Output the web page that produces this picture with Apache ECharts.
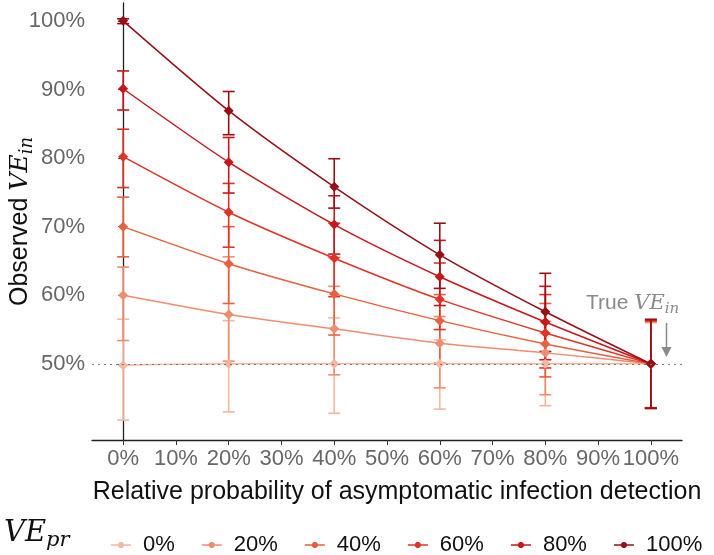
<!DOCTYPE html>
<html><head><meta charset="utf-8">
<script src="https://cdn.jsdelivr.net/npm/echarts@6/dist/echarts.min.js"></script>
<style>html,body{margin:0;padding:0;background:#fff}#c{width:714px;height:555px}</style>
</head><body><div id="c"></div>
<script>
// ---- data ----
const xValues = [0, 20, 40, 60, 80, 100];
const xTickValues = [0, 10, 20, 30, 40, 50, 60, 70, 80, 90, 100];
const yTickValues = [50, 60, 70, 80, 90, 100];
const seriesNames = ['0%', '20%', '40%', '60%', '80%', '100%'];
const trueVE = 50;

const mean_0   = [49.8, 50.0, 50.0, 50.0, 50.0, 50.0];
const low_0    = [41.8, 43.0, 42.8, 43.4, 43.9, 43.5];
const high_0   = [56.5, 56.3, 56.7, 53.5, 54.5, 56.0];

const mean_20  = [60.0, 57.2, 55.1, 53.0, 51.6, 50.0];
const low_20   = [53.4, 50.4, 48.4, 46.5, 45.5, 43.5];
const high_20  = [64.1, 65.6, 61.3, 56.9, 56.2, 56.1];

const mean_40  = [70.0, 64.6, 60.2, 56.3, 52.9, 50.0];
const low_40   = [65.6, 58.8, 54.2, 50.1, 48.1, 43.6];
const high_40  = [74.3, 70.0, 65.5, 60.1, 58.8, 56.2];

const mean_60  = [80.2, 72.1, 65.4, 59.4, 54.5, 50.0];
const low_60   = [75.7, 67.0, 59.8, 55.0, 49.4, 43.6];
const high_60  = [84.2, 76.3, 70.5, 64.7, 60.1, 56.3];

const mean_80  = [90.1, 79.4, 70.3, 62.7, 56.1, 50.0];
const low_80   = [87.0, 74.9, 66.0, 58.5, 50.6, 43.6];
const high_80  = [92.7, 83.0, 74.5, 68.0, 61.3, 56.4];

const mean_100 = [100.0, 86.9, 75.8, 65.9, 57.6, 50.0];
const low_100  = [99.6, 83.4, 72.7, 61.0, 51.8, 43.5];
const high_100 = [100.3, 89.7, 79.9, 70.5, 63.2, 56.5];

// ---- build ----
const means = [mean_0, mean_20, mean_40, mean_60, mean_80, mean_100];
const lows  = [low_0, low_20, low_40, low_60, low_80, low_100];
const highs = [high_0, high_20, high_40, high_60, high_80, high_100];
const colors = ['#F6B7A1', '#F08D6F', '#E9603F', '#DF3326', '#C7171D', '#971015'];

const FONT = '"Liberation Sans", Arial, sans-serif';
const SERIF = '"DejaVu Serif", serif';

function renderErr(params, api) {
  const x = api.value(0), lo = api.value(1), hi = api.value(2);
  const pLo = api.coord([x, lo]), pHi = api.coord([x, hi]);
  const hw = 6;
  const style = { stroke: api.visual('color'), lineWidth: 1.6 };
  return { type: 'group', children: [
    { type: 'line', shape: { x1: pLo[0], y1: pLo[1], x2: pHi[0], y2: pHi[1] }, style },
    { type: 'line', shape: { x1: pLo[0] - hw, y1: pLo[1], x2: pLo[0] + hw, y2: pLo[1] }, style },
    { type: 'line', shape: { x1: pHi[0] - hw, y1: pHi[1], x2: pHi[0] + hw, y2: pHi[1] }, style }
  ]};
}

const series = [{
  type: 'line', name: 'ref', data: [], silent: true,
  markLine: { silent: true, symbol: 'none', label: { show: false },
    lineStyle: { type: [2, 4], color: '#777', width: 1 },
    data: [{ yAxis: trueVE }] }
}];
seriesNames.forEach((n, k) => {
  series.push({
    type: 'custom', name: n, renderItem: renderErr,
    itemStyle: { color: colors[k] },
    data: xValues.map((x, i) => [x, lows[k][i], highs[k][i]])
  });
  series.push({
    type: 'line', name: n, smooth: 0.25,
    symbol: 'diamond', symbolSize: 10,
    lineStyle: { width: 1.5, color: colors[k] },
    itemStyle: { color: colors[k] },
    data: xValues.map((x, i) => [x, means[k][i]])
  });
});

const legendIcon = 'path://M0,3.2h20v1.6h-20z M8.8,1 L11.2,1 L13,2.8 L13,5.2 L11.2,7 L8.8,7 L7,5.2 L7,2.8Z';

const chart = echarts.init(document.getElementById('c'));
chart.setOption({
  animation: false,
  backgroundColor: '#fff',
  grid: { left: 92, right: 32, top: 3, bottom: 115, outerBoundsMode: 'none', containLabel: false },
  xAxis: {
    type: 'value', min: -5.9, max: 105.9,
    name: 'Relative probability of asymptomatic infection detection',
    nameLocation: 'middle', nameGap: 40, nameMoveOverlap: false,
    nameTextStyle: { fontFamily: FONT, fontSize: 25, color: '#111', padding: [0, 0, 0, 20] },
    axisLine: { show: true, lineStyle: { color: '#222', width: 1.3 } },
    axisTick: { show: true, length: 5, lineStyle: { color: '#333' }, customValues: xTickValues },
    axisLabel: { fontFamily: FONT, fontSize: 22, color: '#676767', margin: 8,
      customValues: xTickValues, formatter: v => v + '%' },
    splitLine: { show: false }
  },
  yAxis: {
    type: 'value', min: 38.9, max: 102.6,
    name: '{a|Observed }{b|VE}{c|in}',
    nameLocation: 'middle', nameGap: 56, nameMoveOverlap: false,
    nameTextStyle: { rich: {
      a: { fontFamily: FONT, fontSize: 25, color: '#111', lineHeight: 32, verticalAlign: 'middle' },
      b: { fontFamily: SERIF, fontStyle: 'italic', fontSize: 25, color: '#111', lineHeight: 32, verticalAlign: 'middle' },
      c: { fontFamily: SERIF, fontStyle: 'italic', fontSize: 18, color: '#111', lineHeight: 32, verticalAlign: 'bottom' }
    } },
    axisLine: { show: true, lineStyle: { color: '#222', width: 1.3 } },
    axisTick: { show: true, length: 5, lineStyle: { color: '#333' }, customValues: yTickValues },
    axisLabel: { fontFamily: FONT, fontSize: 22, color: '#676767', margin: 7,
      customValues: yTickValues, formatter: v => v + '%' },
    splitLine: { show: false }
  },
  legend: {
    left: 106, top: 529, width: 640, itemWidth: 20, itemHeight: 6, itemGap: 27,
    data: seriesNames.map(n => ({ name: n, icon: legendIcon })),
    textStyle: { fontFamily: FONT, fontSize: 22, color: '#111', padding: [0, 0, 0, 7] }
  },
  graphic: [
    { type: 'text', left: 4, top: 519, style: {
      text: '{b|VE}{c|pr}',
      rich: {
        b: { fontFamily: SERIF, fontStyle: 'italic', fontSize: 29, fill: '#111', lineHeight: 36, verticalAlign: 'middle' },
        c: { fontFamily: SERIF, fontStyle: 'italic', fontSize: 21, fill: '#111', lineHeight: 36, verticalAlign: 'bottom' }
      } } },
    { type: 'text', left: 586, top: 293, style: {
      text: '{a|True }{b|VE}{c|in}',
      rich: {
        a: { fontFamily: FONT, fontSize: 21, fill: '#8a8a8a', lineHeight: 26, verticalAlign: 'middle' },
        b: { fontFamily: SERIF, fontStyle: 'italic', fontSize: 21, fill: '#8a8a8a', lineHeight: 26, verticalAlign: 'middle' },
        c: { fontFamily: SERIF, fontStyle: 'italic', fontSize: 15, fill: '#8a8a8a', lineHeight: 26, verticalAlign: 'bottom' }
      } } },
    { type: 'line', shape: { x1: 666.5, y1: 323, x2: 666.5, y2: 349 }, style: { stroke: '#8a8a8a', lineWidth: 1.5 } },
    { type: 'polygon', shape: { points: [[661.5, 347], [671.5, 347], [666.5, 357]] }, style: { fill: '#8a8a8a' } }
  ],
  series
});
</script></body></html>
